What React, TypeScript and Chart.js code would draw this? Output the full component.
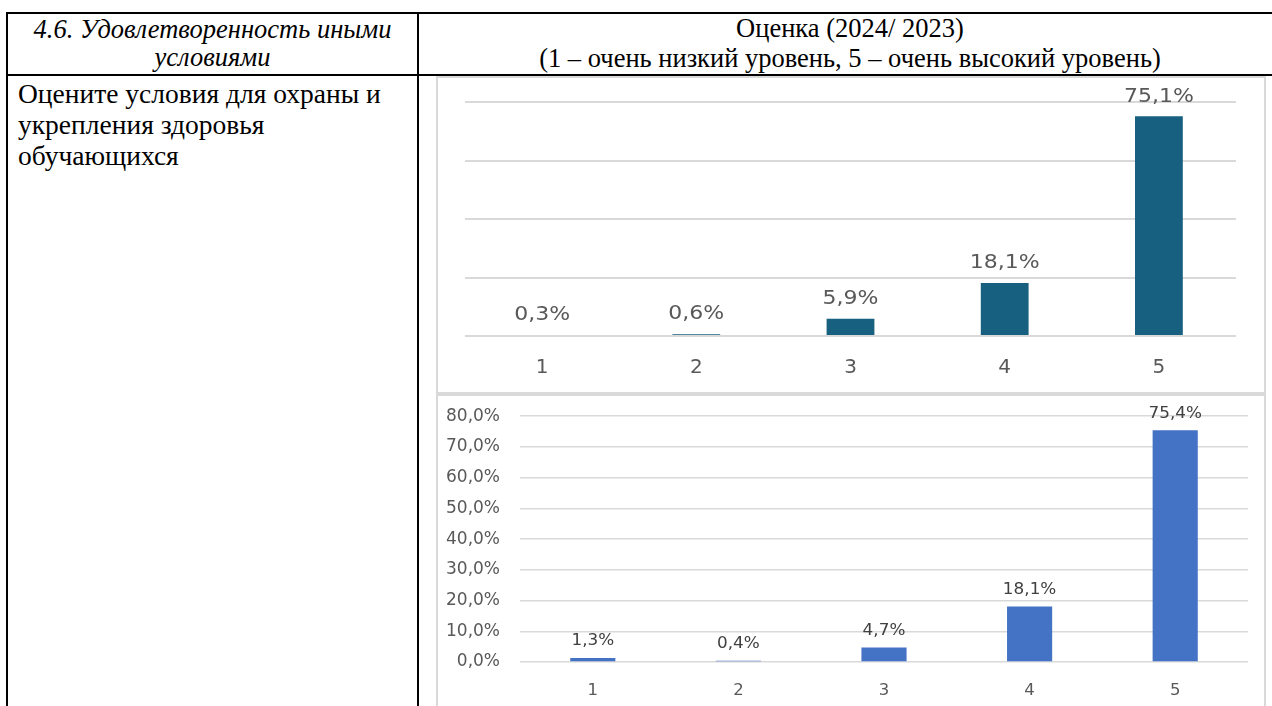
import React, { useEffect, useRef } from "react";
import { Chart, registerables } from "chart.js";

Chart.register(...registerables);

const categories = ["1", "2", "3", "4", "5"];
const values2024 = [0.3, 0.6, 5.9, 18.1, 75.1];
const values2023 = [1.3, 0.4, 4.7, 18.1, 75.4];
const headerLeft = ["4.6. Удовлетворенность иными", "условиями"];
const headerRight = ["Оценка (2024/ 2023)", "(1 – очень низкий уровень, 5 – очень высокий уровень)"];
const questionLines = ["Оцените условия для охраны и", "укрепления здоровья", "обучающихся"];

const fmt = (v: number) => v.toFixed(1).replace(".", ",") + "%";

function labelPlugin(color: string, family: string, size: number, offset: number, stretch: number) {
  return {
    id: "barLabels",
    afterDatasetsDraw(chart: any) {
      const ctx = chart.ctx;
      const meta = chart.getDatasetMeta(0);
      const data = chart.data.datasets[0].data as number[];
      ctx.save();
      ctx.fillStyle = color;
      ctx.font = `${size}px "${family}"`;
      ctx.textAlign = "center";
      ctx.textBaseline = "middle";
      meta.data.forEach((el: any, i: number) => {
        ctx.save();
        ctx.translate(el.x, el.y - offset);
        ctx.scale(stretch, 1);
        ctx.fillText(fmt(data[i]), 0, 0);
        ctx.restore();
      });
      ctx.restore();
    },
  };
}

function ChartTop() {
  const ref = useRef<HTMLCanvasElement>(null);
  useEffect(() => {
    const chart = new Chart(ref.current!, {
      type: "bar",
      data: {
        labels: categories,
        datasets: [
          {
            data: values2024,
            backgroundColor: "#17607f",
            barPercentage: 0.31,
            categoryPercentage: 1,
          },
        ],
      },
      options: {
        animation: false,
        responsive: false,
        maintainAspectRatio: false,
        layout: { padding: { left: 0, right: 28, top: 24, bottom: 0 } },
        plugins: { legend: { display: false }, tooltip: { enabled: false } },
        scales: {
          x: {
            grid: { display: false },
            border: { display: false },
            ticks: { color: "#595959", font: { family: "DejaVu Sans", size: 20 }, padding: 12 },
            afterFit: (s: any) => {
              s.height = 56;
            },
          },
          y: {
            min: 0,
            max: 80,
            ticks: { display: false, stepSize: 20 },
            grid: { color: "#d9d9d9", lineWidth: 2, drawTicks: false },
            border: { display: false },
            afterFit: (s: any) => {
              s.width = 27;
            },
          },
        },
      } as any,
      plugins: [labelPlugin("#595959", "DejaVu Sans", 20, 20, 1.1)],
    });
    return () => chart.destroy();
  }, []);
  return <canvas ref={ref} width={826} height={314} style={{ width: 826, height: 314, display: "block" }} />;
}

function ChartBottom() {
  const ref = useRef<HTMLCanvasElement>(null);
  useEffect(() => {
    const chart = new Chart(ref.current!, {
      type: "bar",
      data: {
        labels: categories,
        datasets: [
          {
            data: values2023,
            backgroundColor: "#4472c4",
            barPercentage: 0.31,
            categoryPercentage: 1,
          },
        ],
      },
      options: {
        animation: false,
        responsive: false,
        maintainAspectRatio: false,
        layout: { padding: { left: 0, right: 16, top: 10, bottom: 0 } },
        plugins: { legend: { display: false }, tooltip: { enabled: false } },
        scales: {
          x: {
            grid: { display: false },
            border: { display: false },
            ticks: { color: "#595959", font: { family: "DejaVu Sans", size: 16.5 }, padding: 11 },
            afterFit: (s: any) => {
              s.height = 44;
            },
          },
          y: {
            min: 0,
            max: 80,
            ticks: {
              stepSize: 10,
              color: "#595959",
              font: { family: "DejaVu Sans", size: 17 },
              padding: 20,
              callback: (v: any) => fmt(Number(v)),
            },
            grid: { color: "#d9d9d9", lineWidth: 1.5, drawTicks: false },
            border: { display: false },
            afterFit: (s: any) => {
              s.width = 82;
            },
          },
        },
      } as any,
      plugins: [labelPlugin("#404040", "DejaVu Sans", 16.5, 17, 1.02)],
    });
    return () => chart.destroy();
  }, []);
  return (
    <canvas
      ref={ref}
      width={826}
      height={320}
      style={{ position: "absolute", left: 0, top: -10, width: 826, height: 320, display: "block" }}
    />
  );
}

const line = (left: number, top: number, width: number, height: number) => (
  <div style={{ position: "absolute", left, top, width, height, background: "#000" }} />
);

export default function App() {
  const serif = '"Liberation Serif", "Times New Roman", serif';
  return (
    <div
      style={{
        position: "fixed",
        left: 0,
        top: 0,
        width: 1272,
        height: 706,
        overflow: "hidden",
        background: "#fff",
        fontFamily: serif,
        color: "#000",
      }}
    >
      {/* header left */}
      <div
        style={{
          position: "absolute",
          left: 8,
          top: 15,
          width: 409,
          textAlign: "center",
          fontStyle: "italic",
          fontSize: 26.5,
          lineHeight: "28px",
          whiteSpace: "nowrap",
        }}
      >
        {headerLeft.map((t, i) => (
          <div key={i}>{t}</div>
        ))}
      </div>

      {/* header right */}
      <div
        style={{
          position: "absolute",
          left: 419,
          top: 14,
          width: 862,
          textAlign: "center",
          fontSize: 26.5,
          lineHeight: "29.5px",
          whiteSpace: "nowrap",
        }}
      >
        {headerRight.map((t, i) => (
          <div key={i}>{t}</div>
        ))}
      </div>

      {/* question text */}
      <div
        style={{
          position: "absolute",
          left: 18,
          top: 78,
          width: 398,
          fontSize: 27.5,
          lineHeight: "31px",
          whiteSpace: "nowrap",
        }}
      >
        {questionLines.map((t, i) => (
          <div key={i}>{t}</div>
        ))}
      </div>

      {/* chart frames */}
      <div
        style={{
          position: "absolute",
          left: 436,
          top: 76,
          width: 826,
          height: 314,
          border: "2px solid #d9d9d9",
        }}
      >
        <ChartTop />
      </div>
      <div
        style={{
          position: "absolute",
          left: 436,
          top: 394,
          width: 826,
          height: 330,
          border: "2px solid #d9d9d9",
        }}
      >
        <ChartBottom />
      </div>

      {/* table borders */}
      {line(6, 12, 1280, 2)}
      {line(6, 74, 1280, 2)}
      {line(6, 12, 2, 700)}
      {line(417, 12, 2, 700)}
    </div>
  );
}
